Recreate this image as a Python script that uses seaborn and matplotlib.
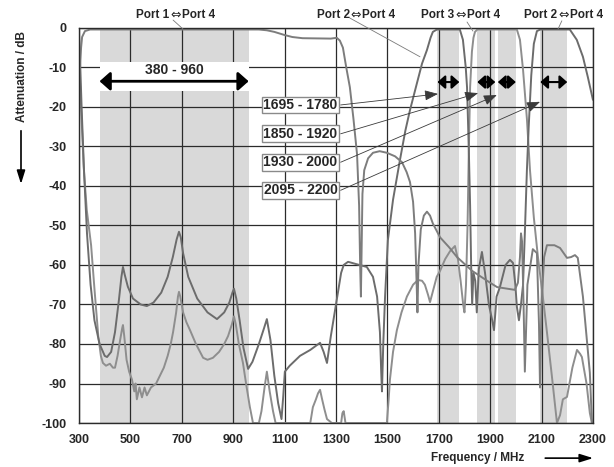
import matplotlib
matplotlib.use("Agg")
import matplotlib.pyplot as plt
import seaborn as sns
from matplotlib.patches import Rectangle, FancyArrowPatch

# --- data (frequency in MHz, attenuation in dB) ---
p14_f = [300, 304, 308, 312, 323, 343, 1000, 1031, 1060, 1100, 1130, 1170, 1280, 1303, 1315, 1327,
         1340, 1354, 1368, 1382, 1390, 1394, 1397, 1400, 1403, 1410, 1425, 1444, 1470, 1498, 1530,
         1557, 1575, 1588, 1600, 1608, 1614, 1617, 1621, 1630, 1642, 1654, 1666, 1677, 1705, 1740,
         1771, 1830, 1900, 1927, 1996, 2008, 2016, 2020, 2024, 2030, 2035, 2045, 2066, 2082, 2090,
         2094, 2100, 2110, 2121, 2150, 2172, 2199, 2215, 2230, 2241, 2261, 2275, 2288, 2296, 2300]
p14_db = [-15, -10, -5, -2.3, -0.8, -0.4, -0.4, -0.6, -1.0, -1.8, -2.3, -2.6, -2.7, -2.5, -3.2, -5,
          -10, -15, -23, -32, -45, -60, -68, -55, -42, -36, -33, -31.6, -31.2, -31.6, -32.5,
          -34, -36.5, -39, -44, -52, -65, -72, -60, -51, -47.5, -46.5, -47.5, -49.5, -53, -55.5,
          -58, -61.5, -64.5, -65.6, -66.3, -64.5, -58, -52, -54, -70, -87, -65, -56, -57, -75,
          -91, -70, -58, -55, -55, -55.7, -58.2, -58, -57.5, -58.2, -68, -78, -87.3, -100, -100]

p24_f = [300, 305, 310, 320, 331, 345, 360, 380, 400, 409, 425, 440, 455, 465, 471, 478, 490, 510,
         540, 564, 590, 620, 645, 665, 680, 689, 696, 705, 725, 760, 800, 837, 865, 885, 897, 903,
         912, 925, 940, 958, 975, 1000, 1020, 1031, 1045, 1060, 1075, 1088, 1095, 1101, 1120, 1160,
         1200, 1238, 1252, 1265, 1280, 1295, 1310, 1320, 1330, 1347, 1380, 1420, 1444, 1460, 1471,
         1476, 1479, 1484, 1491, 1502, 1522, 1549, 1570, 1588, 1615, 1635, 1654, 1668, 1677, 1693,
         1782, 1794, 1805, 1810, 1817, 1822, 1826, 1830, 1835, 1842, 1848, 1856, 1868, 1880, 1895,
         1908, 1915, 1925, 1938, 1960, 1977, 1989, 1998, 2004, 2012, 2020, 2028, 2036, 2043, 2050,
         2060, 2070, 2082, 2095, 2210, 2237, 2261, 2280, 2300]
p24_db = [-2, -10, -20, -37, -52, -65, -74, -80, -83, -83.3, -82, -77, -69, -63, -60.5, -62.5, -65.5,
          -68.5, -70, -70.4, -69.5, -67, -63, -58, -53.5, -51.6, -53, -57, -63, -68.5, -72, -73.7,
          -72, -69.5, -67, -66, -68.5, -74, -81, -86.3, -84.5, -80, -76, -73.7, -79, -88, -95, -99,
          -93, -87, -85.5, -83, -81.5, -79.7, -82, -84.8, -78, -72, -66, -62, -60, -59.2, -59.8,
          -60.5, -63, -68, -77, -87, -92, -80, -68, -53.7, -43.5, -33.4, -26, -20.8, -14, -9, -5.6,
          -2.5, -1, -0.4, -0.4, -3, -10, -15, -31, -45, -60, -70, -62, -64, -72, -61, -56.7, -62,
          -70, -74, -76.5, -68, -65.6, -60, -58.7, -59.5, -65, -70.6, -74, -70, -65, -50, -36, -25,
          -12, -4, -0.8, -0.4, -0.4, -3, -7.3, -12.4, -18.2]

p34_f = [300, 308, 318, 330, 347, 360, 375, 385, 393, 405, 420, 432, 440, 450, 460, 468, 471, 476,
         485, 495, 506, 515, 520, 525, 535, 545, 555, 564, 580, 600, 615, 630, 645, 657, 666, 678,
         685, 689, 694, 705, 718, 732, 755, 783, 800, 821, 845, 865, 880, 895, 903, 910, 922, 938,
         950, 965, 977, 1000, 1010, 1022, 1031, 1042, 1055, 1065, 1200, 1210, 1222, 1230, 1238,
         1246, 1255, 1265, 1284, 1320, 1325, 1330, 1337, 1498, 1505, 1510, 1522, 1537, 1555, 1576,
         1600, 1619, 1635, 1646, 1658, 1666, 1680, 1692, 1705, 1725, 1744, 1763, 1775, 1785, 1795,
         1800, 1806, 1812, 1817, 1822, 1829, 1835, 1841, 1850, 2004, 2016, 2028, 2043, 2055, 2070,
         2086, 2105, 2121, 2140, 2160, 2172, 2183, 2199, 2220, 2238, 2250, 2257, 2275, 2288, 2296]
p34_db = [-8, -20, -35, -46, -55, -66, -78, -83, -84.8, -85.5, -85, -86, -86, -83, -79, -76, -75.2,
          -78, -84, -87, -89, -92, -90, -94, -91, -93.5, -91, -93, -91, -90, -88, -86, -83, -80,
          -77, -72, -68, -66.8, -68, -72, -74.5, -76.5, -80, -83.5, -84, -83.5, -82, -80, -78, -75,
          -73, -75, -80, -84.8, -90, -96, -100, -100, -97, -91, -87, -92, -97, -100, -100, -96,
          -94, -92.5, -91.6, -94, -96.5, -99, -100, -100, -97.5, -97, -100, -100, -94, -89, -82,
          -76.5, -72, -68, -65, -63.8, -64, -65, -67.5, -69.4, -66, -63, -61.5, -58.5, -56.5,
          -55.2, -58.7, -64, -70, -72, -65, -50, -31, -15, -6, -2.5, -1, -0.4, -0.4, -3, -10.6,
          -23, -36, -48, -58, -68, -77, -88, -100, -98, -94, -93.4, -86, -81.5, -82.5, -83.3, -90,
          -97.5, -100]

bands = [(380, 960), (1695, 1780), (1850, 1920), (1930, 2000), (2095, 2200)]
band_labels = ["1695 - 1780", "1850 - 1920", "1930 - 2000", "2095 - 2200"]
label_y = [-19.5, -26.8, -34.0, -41.1]
pointer_xy = [(1697, -16.7), (1853, -16.5), (1926, -17.0), (2094, -18.7)]

port_left = ["Port 1", "Port 2", "Port 3", "Port 2"]
port_right = ["Port 4", "Port 4", "Port 4", "Port 4"]
port_x = [676, 1378, 1786, 2185]
port_leaders = [((666, 2.0), (705, -0.3)), ((1354, 2.5), (1627, -7.3)),
                ((1810, 1.5), (1833, -0.8)), ((2179, 1.8), (2164, -0.3))]

x_ticks = list(range(300, 2301, 200))
y_ticks = list(range(-100, 1, 10))

sns.set_style("white")
plt.rcParams["font.family"] = ["Liberation Sans", "DejaVu Sans"]
plt.rcParams["font.weight"] = "bold"

fig = plt.figure(figsize=(6.14, 4.67), dpi=100)
ax = fig.add_axes([0.1287, 0.0942, 0.837, 0.846])

for lo, hi in bands:
    ax.axvspan(lo, hi, color="#d9d9d9", lw=0, zorder=0)

sns.lineplot(x=p34_f, y=p34_db, ax=ax, color="#8e8e8e", lw=1.4, estimator=None, sort=False, zorder=2)
sns.lineplot(x=p24_f, y=p24_db, ax=ax, color="#6c6c6c", lw=1.4, estimator=None, sort=False, zorder=2)
sns.lineplot(x=p14_f, y=p14_db, ax=ax, color="#7d7d7d", lw=1.4, estimator=None, sort=False, zorder=2)

ax.set_xlim(300, 2300)
ax.set_ylim(-100, 0)
ax.set_xticks(x_ticks)
ax.set_yticks(y_ticks)
ax.set_xticklabels([str(t) for t in x_ticks], fontsize=9, fontweight="bold")
ax.set_yticklabels([str(t) for t in y_ticks], fontsize=9, fontweight="bold")
ax.tick_params(axis="x", length=0, pad=8)
ax.tick_params(axis="y", length=0, pad=9)
ax.set_axisbelow(True)
ax.grid(True, color="#2b2b2b", lw=0.9)
for s in ax.spines.values():
    s.set_color("#2b2b2b")
    s.set_linewidth(1.0)
ax.set_xlabel("")
ax.set_ylabel("")

# 380 - 960 passband box
ax.add_patch(Rectangle((380, -16), 580, 7.4, facecolor="white", edgecolor="none", zorder=3))
ax.text(670, -10.7, "380 - 960", ha="center", va="center", fontsize=10, fontweight="bold", zorder=4)
ax.annotate("", xy=(380, -13.5), xytext=(960, -13.5), zorder=4,
            arrowprops=dict(arrowstyle="<|-|>,head_length=0.45,head_width=0.4", color="black",
                            lw=2, mutation_scale=14, shrinkA=0, shrinkB=0))

# small band arrows
for lo, hi in bands[1:]:
    ax.annotate("", xy=(lo, -13.7), xytext=(hi, -13.7), zorder=4,
                arrowprops=dict(arrowstyle="<|-|>,head_length=0.45,head_width=0.4", color="black",
                                lw=1.5, mutation_scale=10, shrinkA=0, shrinkB=0))

# band labels with leader arrows
for txt, yy, (px, py) in zip(band_labels, label_y, pointer_xy):
    ax.text(1162, yy, txt, ha="center", va="center", fontsize=10, fontweight="bold", zorder=5,
            bbox=dict(boxstyle="square,pad=0.1", facecolor="white", edgecolor="#8a8a8a", lw=1))
    ax.annotate("", xy=(px, py), xytext=(1318, yy), zorder=4,
                arrowprops=dict(arrowstyle="-|>,head_length=0.9,head_width=0.35", color="#3a3a3a",
                                lw=0.6, mutation_scale=9, shrinkA=0, shrinkB=0))

# port labels above plot
for left, right, xx, (a, b) in zip(port_left, port_right, port_x, port_leaders):
    ax.annotate("\u21d4", (xx, 3.3), ha="center", va="center", fontsize=9, family="DejaVu Sans",
                fontweight="normal", annotation_clip=False)
    ax.annotate(left, (xx, 3.3), xytext=(-4.6, 0), textcoords="offset points", ha="right",
                va="center", fontsize=8.5, fontweight="bold", annotation_clip=False)
    ax.annotate(right, (xx, 3.3), xytext=(4.6, 0), textcoords="offset points", ha="left",
                va="center", fontsize=8.5, fontweight="bold", annotation_clip=False)
    ax.plot([a[0], b[0]], [a[1], b[1]], color="#7a7a7a", lw=0.6, clip_on=False, zorder=3)

# axis titles with arrows
fig.text(0.0358, 0.837, "Attenuation / dB", rotation=90, ha="center", va="center",
         fontsize=8.5, fontweight="bold")
fig.patches.append(FancyArrowPatch(
    (0.0342, 0.72), (0.0342, 0.606), transform=fig.transFigure, figure=fig, shrinkA=0, shrinkB=0,
    arrowstyle="-|>,head_length=0.8,head_width=0.25", mutation_scale=10, color="black", lw=1.2))
fig.text(0.778, 0.019, "Frequency / MHz", ha="center", va="center", fontsize=8.5, fontweight="bold")
fig.patches.append(FancyArrowPatch(
    (0.888, 0.019), (0.966, 0.019), transform=fig.transFigure, figure=fig, shrinkA=0, shrinkB=0,
    arrowstyle="-|>,head_length=0.8,head_width=0.25", mutation_scale=10, color="black", lw=1.2))

fig.savefig("out.png", dpi=100)
